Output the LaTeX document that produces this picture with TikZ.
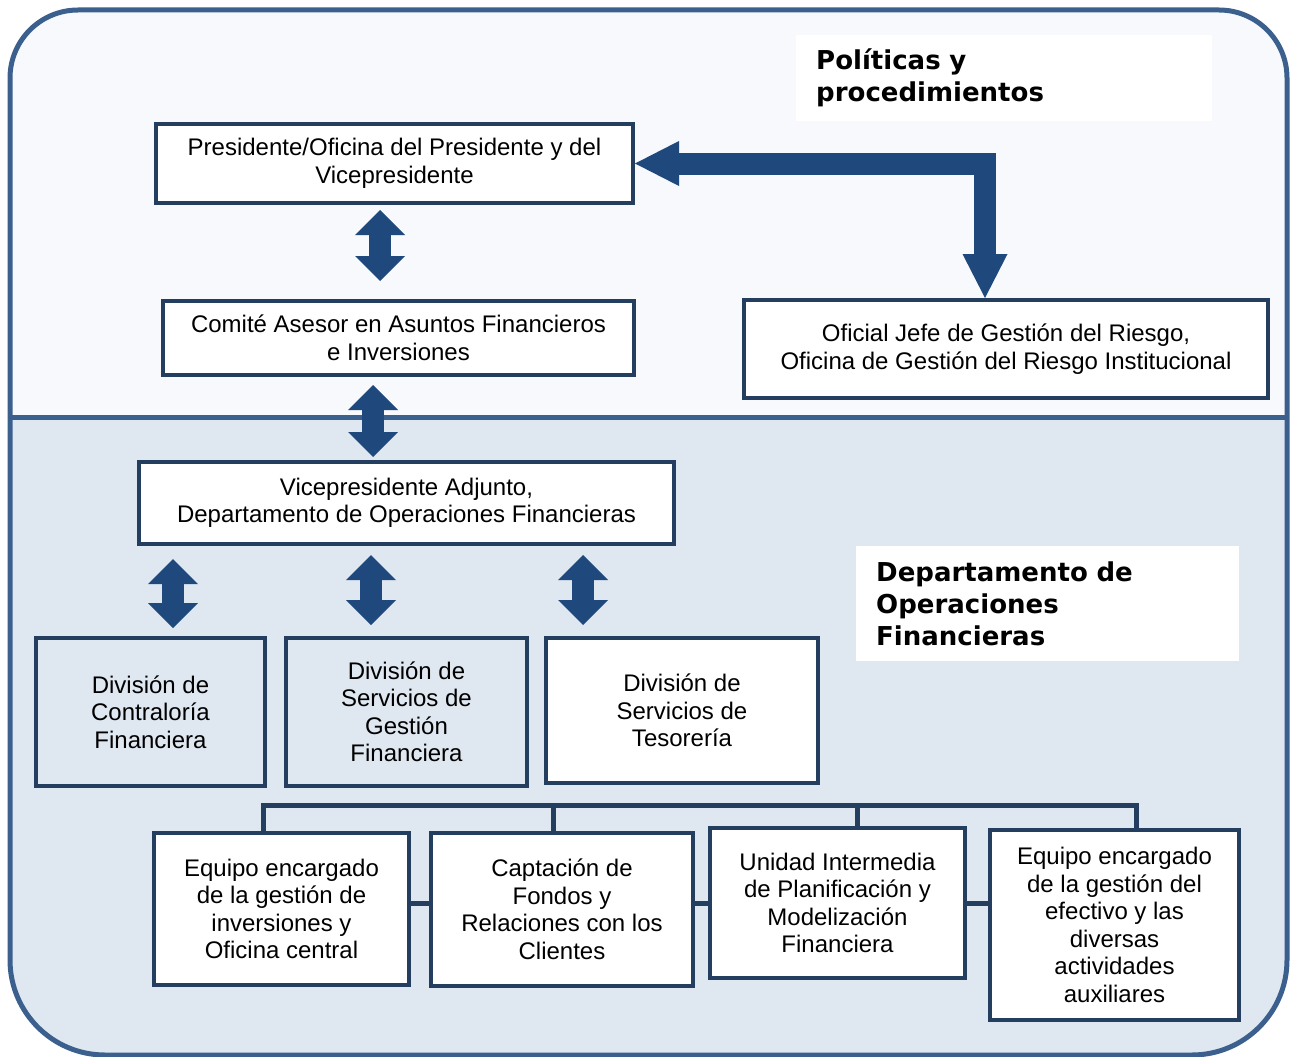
\documentclass[tikz,border=0pt]{standalone}
\usepackage{fontspec}
\setmainfont{Liberation Sans}
\newfontfamily\headfont{DejaVu Sans}
\usetikzlibrary{arrows.meta}
\definecolor{framec}{RGB}{59,96,142}
\definecolor{topbg}{RGB}{247,249,253}
\definecolor{botbg}{RGB}{223,231,241}
\definecolor{boxc}{RGB}{36,62,96}
\definecolor{arrowc}{RGB}{31,73,125}

\begin{document}
\begin{tikzpicture}[x=1pt,y=1pt]
\tikzstyle{every node}+=[inner sep=0pt]
\tikzstyle{box}=[draw=boxc, line width=4pt, fill=white, align=center, font=\fontsize{24}{27.5}\selectfont]
\tikzstyle{openbox}=[box, fill=none]
\tikzstyle{head}=[fill=white, align=left, anchor=north west, inner xsep=20pt, font=\headfont\bfseries\fontsize{26}{32}\selectfont]
\tikzstyle{dbl}=[arrowc, line width=22pt, {Triangle[length=25pt,width=50pt,line width=0pt]}-{Triangle[length=25pt,width=50pt,line width=0pt]}]
\tikzstyle{elbow}=[arrowc, line width=22pt, line join=miter, {Triangle[length=44pt,width=45pt,line width=0pt]}-{Triangle[length=44pt,width=45pt,line width=0pt]}]
\tikzstyle{link}=[boxc, line width=5pt]
\useasboundingbox (0,0) rectangle (1296,-1057);
\fill[topbg, rounded corners=68pt] (10,-417) -- (10,-10) -- (1287,-10) -- (1287,-417);
\draw[framec, line width=5pt, rounded corners=68pt] (10,-417) -- (10,-10) -- (1287,-10) -- (1287,-417);
\fill[botbg, rounded corners=95pt] (10,-417) -- (10,-1055) -- (1287,-1055) -- (1287,-417);
\draw[framec, line width=5pt, rounded corners=95pt] (10,-417) -- (10,-1055) -- (1287,-1055) -- (1287,-417);
\draw[framec, line width=5pt] (8,-417) -- (1289,-417);

\node[head, text width=376pt, minimum height=86pt] (polit) at (796,-35) {Políticas y\\procedimientos};
\node[head, text width=343pt, minimum height=115pt] (dof) at (856,-546) {Departamento de\\Operaciones\\Financieras};

\node[box, minimum width=477pt, minimum height=79pt] (pres) at (394.5,-163.5) {Presidente/Oficina del Presidente y del\\Vicepresidente};
\node[box, minimum width=471pt, minimum height=74pt] (comite) at (398.5,-338) {Comité Asesor en Asuntos Financieros\\e Inversiones};
\node[box, minimum width=524pt, minimum height=98pt] (riesgo) at (1006,-349) {Oficial Jefe de Gestión del Riesgo,\\Oficina de Gestión del Riesgo Institucional};
\node[box, minimum width=535pt, minimum height=82pt] (vpa) at (406.5,-503) {Vicepresidente Adjunto,\\Departamento de Operaciones Financieras};
\node[openbox, minimum width=229pt, minimum height=148pt] (div1) at (150.5,-712) {División de\\Contraloría\\Financiera};
\node[openbox, minimum width=241pt, minimum height=148pt] (div2) at (406.5,-712) {División de\\Servicios de\\Gestión\\Financiera};
\node[box, minimum width=272pt, minimum height=145pt] (div3) at (682,-710.5) {División de\\Servicios de\\Tesorería};
\node[box, minimum width=255pt, minimum height=152pt] (eq1) at (281.5,-909) {Equipo encargado\\de la gestión de\\inversiones y\\Oficina central};
\node[box, minimum width=262pt, minimum height=153pt] (capt) at (562,-909.5) {Captación de\\Fondos y\\Relaciones con los\\Clientes};
\node[box, minimum width=255pt, minimum height=150pt] (unidad) at (837.5,-903) {Unidad Intermedia\\de Planificación y\\Modelización\\Financiera};
\node[box, minimum width=249pt, minimum height=190pt] (efectivo) at (1114.5,-925) {Equipo encargado\\de la gestión del\\efectivo y las\\diversas\\actividades\\auxiliares};

\draw[dbl] ([xshift=-14.5pt,yshift=-5pt]pres.south) -- ([xshift=-18.5pt,yshift=18pt]comite.north);
\draw[dbl] ([xshift=-25.5pt,yshift=-8pt]comite.south) -- ([xshift=-33.5pt,yshift=3pt]vpa.north);
\draw[dbl] ([xshift=-233.5pt,yshift=-13pt]vpa.south) -- ([xshift=22.5pt,yshift=8pt]div1.north);
\draw[dbl] ([xshift=-35.5pt,yshift=-9pt]vpa.south) -- ([xshift=-35.5pt,yshift=11pt]div2.north);
\draw[dbl] ([xshift=176.5pt,yshift=-9pt]vpa.south) -- ([xshift=-99pt,yshift=11pt]div3.north);

\coordinate (bend) at (985,-163.5);
\draw[elbow] (bend |- riesgo.north) -- (bend) -- (pres.east);

\coordinate (t1) at (263,-805);
\coordinate (t2) at (553,-805);
\coordinate (t3) at (857,-805);
\coordinate (t4) at (1136,-805);
\coordinate (mid) at (0,-903);
\draw[link] (t1 |- eq1.north) -- (t1) -- (t4) -- (t4 |- efectivo.north);
\draw[link] (t2) -- (t2 |- capt.north);
\draw[link] (t3) -- (t3 |- unidad.north);
\draw[link] (eq1.east |- mid) -- (capt.west |- mid);
\draw[link] (capt.east |- mid) -- (unidad.west |- mid);
\draw[link] (unidad.east |- mid) -- (efectivo.west |- mid);
\end{tikzpicture}
\end{document}
